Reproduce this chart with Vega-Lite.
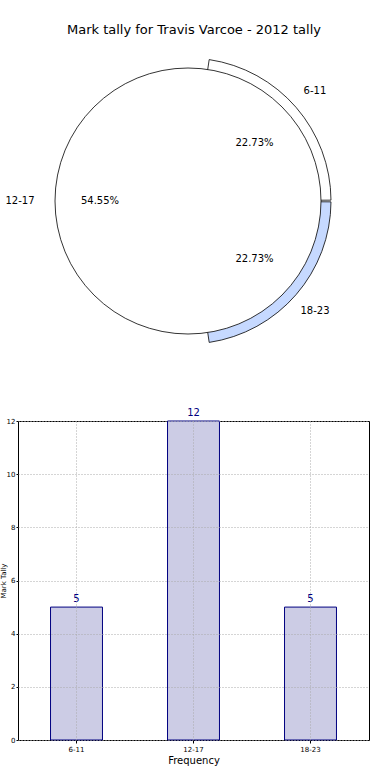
{
  "$schema": "https://vega.github.io/schema/vega-lite/v6.json",
  "padding": {"left": -2, "top": 24, "right": 0, "bottom": 0},
  "background": "white",
  "bounds": "flush",
  "spacing": 62,
  "config": {"font": "DejaVu Sans", "view": {"stroke": null}},
  "datasets": {
    "tally": [
      {"range": "6-11", "count": 5, "order": 1, "pct": "22.73%"},
      {"range": "12-17", "count": 12, "order": 3, "pct": "54.55%"},
      {"range": "18-23", "count": 5, "order": 2, "pct": "22.73%"}
    ],
    "full": [{"k": "all"}]
  },
  "vconcat": [
    {
      "width": 340,
      "height": 316,
      "title": {"text": "Mark tally for Travis Varcoe - 2012 tally", "fontSize": 13, "fontWeight": "normal", "font": "DejaVu Sans", "color": "#000", "offset": 6, "dx": 6},
      "layer": [
        {
          "data": {"name": "tally"},
          "mark": {"type": "arc", "outerRadius": 143, "stroke": "#000", "strokeWidth": 0.8, "padAngle": 0.012},
          "encoding": {
            "theta": {"field": "count", "type": "quantitative", "stack": true, "scale": {"range": [0.1428, 6.426]}},
            "order": {"field": "order", "type": "quantitative"},
            "color": {"field": "range", "type": "nominal", "scale": {"domain": ["6-11", "12-17", "18-23"], "range": ["#ffffff", "#ffffff", "#c6d9ff"]}, "legend": null},
            "opacity": {"condition": {"test": "datum.range === '12-17'", "value": 0}, "value": 1}
          }
        },
        {
          "data": {"name": "full"},
          "mark": {"type": "arc", "outerRadius": 133, "theta": 0, "theta2": 6.2832, "fill": "#ffffff", "stroke": "#000", "strokeWidth": 0.8},
          "encoding": {}
        },
        {
          "data": {"name": "tally"},
          "mark": {"type": "text", "radius": 88, "fontSize": 10, "color": "#000"},
          "encoding": {
            "theta": {"field": "count", "type": "quantitative", "stack": true, "scale": {"range": [0.1428, 6.426]}},
            "order": {"field": "order", "type": "quantitative"},
            "text": {"field": "pct"}
          }
        },
        {
          "data": {"name": "tally"},
          "mark": {"type": "text", "radius": 168, "fontSize": 10, "color": "#000"},
          "encoding": {
            "theta": {"field": "count", "type": "quantitative", "stack": true, "scale": {"range": [0.1428, 6.426]}},
            "order": {"field": "order", "type": "quantitative"},
            "text": {"field": "range"}
          }
        }
      ],
      "resolve": {"scale": {"theta": "independent"}}
    },
    {
      "data": {"name": "tally"},
      "width": 351,
      "height": 319,
      "view": {"stroke": "#000", "strokeWidth": 1},
      "encoding": {
        "x": {
          "field": "range", "type": "nominal", "sort": ["6-11", "12-17", "18-23"],
          "scale": {"paddingInner": 0.556, "paddingOuter": 0.278},
          "axis": {"title": "Frequency", "titleFontSize": 10, "titleFontWeight": "normal", "titleColor": "#000", "titlePadding": 3, "labelFontSize": 7, "labelColor": "#000", "labelAngle": 0, "labelPadding": 2, "tickSize": 3, "tickColor": "#000", "domain": false, "grid": true, "gridDash": [1, 2], "gridColor": "#aaa", "zindex": 1}
        },
        "y": {
          "field": "count", "type": "quantitative",
          "scale": {"domain": [0, 12], "nice": false},
          "axis": {"title": "Mark Tally", "values": [0, 2, 4, 6, 8, 10, 12], "titleFontSize": 7, "titleFontWeight": "normal", "titleColor": "#000", "titlePadding": 0, "labelFontSize": 7, "labelColor": "#000", "labelPadding": 1, "tickSize": 2, "tickColor": "#000", "domain": false, "grid": true, "gridDash": [1, 2], "gridColor": "#aaa", "zindex": 1}
        }
      },
      "layer": [
        {"mark": {"type": "bar", "fill": "#ccccE5", "stroke": "#000080", "strokeWidth": 1}},
        {
          "mark": {"type": "text", "dy": -3, "baseline": "bottom", "color": "#000080", "fontSize": 10},
          "encoding": {"text": {"field": "count", "type": "quantitative"}}
        }
      ]
    }
  ]
}
